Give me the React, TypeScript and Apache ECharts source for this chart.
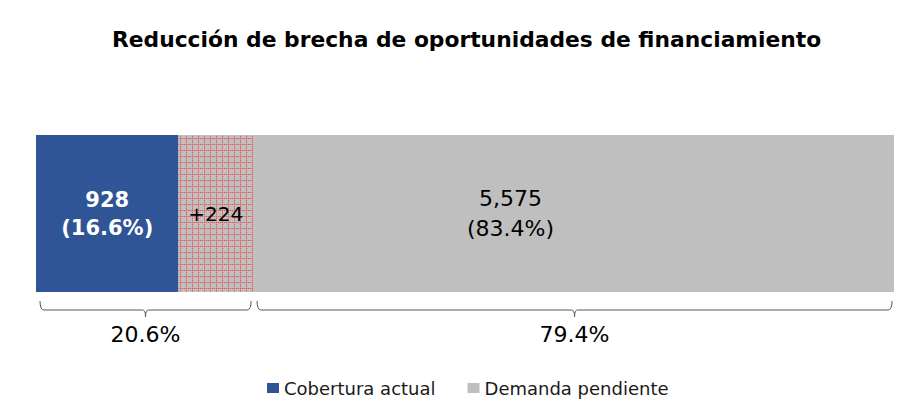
import React, { useEffect, useRef } from "react";
import * as echarts from "echarts";

const titleText = "Reducción de brecha de oportunidades de financiamiento";
const categories = ["Oportunidades"];
const seriesNames = ["Cobertura actual", "Brecha cubierta", "Demanda pendiente"];
const barValues = [16.6, 8.7, 74.7];
const barLabels = ["928\n(16.6%)", "+224", "5,575\n(83.4%)"];
const braceRanges = [
  [0, 25.3],
  [25.3, 100],
];
const braceLabels = ["20.6%", "79.4%"];
const legendItems = ["Cobertura actual", "Demanda pendiente"];

const FONT = "DejaVu Sans";

function makePattern() {
  const c = document.createElement("canvas");
  c.width = 6;
  c.height = 6;
  const ctx = c.getContext("2d")!;
  ctx.fillStyle = "#C0C0C0";
  ctx.fillRect(0, 0, 6, 6);
  for (let i = 0; i < 6; i++) {
    ctx.fillStyle = i % 2 === 0 ? "#E05555" : "#D49A9A";
    ctx.fillRect(i, 0, 1, 1);
    if (i > 0) ctx.fillRect(0, i, 1, 1);
  }
  return c;
}

export default function App() {
  const ref = useRef<HTMLDivElement>(null);
  useEffect(() => {
    if (!ref.current) return;
    const chart = echarts.init(ref.current, null, { renderer: "svg" });
    const pattern = makePattern();
    const colors = [
      "#2F5597",
      { image: pattern, repeat: "repeat", imageWidth: 6, imageHeight: 6 },
      "#BFBFBF",
    ];
    const labelStyles: any[] = [
      { color: "#FFFFFF", fontWeight: "bold", fontSize: 21, lineHeight: 28, offset: [0, 0] },
      { color: "#000000", fontSize: 20, lineHeight: 26, offset: [0, 0] },
      { color: "#000000", fontSize: 22, lineHeight: 30, offset: [-63, 0] },
    ];
    const barSeries = seriesNames.map((name, i) => ({
      name,
      type: "bar",
      stack: "total",
      barWidth: "100%",
      data: [barValues[i]],
      itemStyle: { color: colors[i] as any },
      label: {
        show: true,
        position: "inside",
        formatter: () => barLabels[i],
        fontFamily: FONT,
        ...labelStyles[i],
      },
      emphasis: { disabled: true },
    }));
    const braceData = braceRanges.map((r, i) => [r[0], r[1], i]);
    chart.setOption({
      animation: false,
      title: {
        text: titleText,
        left: 107,
        top: 23,
        textStyle: { fontFamily: FONT, fontSize: 21.8, fontWeight: "bold", color: "#000" },
      },
      legend: {
        data: legendItems,
        left: 262,
        top: 374,
        icon: "rect",
        itemWidth: 12,
        itemHeight: 10,
        itemGap: 32,
        textStyle: { fontFamily: FONT, fontSize: 18, color: "#1a1a1a" },
        selectedMode: false,
      },
      grid: { left: 36, right: 11, top: 135, bottom: 122 },
      xAxis: { type: "value", min: 0, max: 100, show: false },
      yAxis: { type: "category", data: categories, show: false },
      series: [
        ...barSeries,
        {
          type: "custom",
          name: "braces",
          clip: false,
          silent: true,
          data: braceData,
          renderItem: (params: any, api: any) => {
            const s = api.coord([api.value(0), 0]);
            const e = api.coord([api.value(1), 0]);
            const band = api.size([0, 1])[1];
            const bottom = s[1] + band / 2;
            const top = bottom + 9;
            const line = bottom + 18;
            const tip = bottom + 25;
            const x1 = s[0] + 4;
            const x2 = e[0] - 2;
            const mid = (x1 + x2) / 2;
            const d = `M ${x1} ${top} Q ${x1} ${line} ${x1 + 4} ${line} L ${mid - 3} ${line} Q ${mid} ${line} ${mid} ${tip} Q ${mid} ${line} ${mid + 3} ${line} L ${x2 - 4} ${line} Q ${x2} ${line} ${x2} ${top}`;
            const idx = api.value(2);
            return {
              type: "group",
              children: [
                {
                  type: "path",
                  shape: { pathData: d },
                  style: { fill: "none", stroke: "#595959", lineWidth: 1 },
                },
                {
                  type: "text",
                  x: mid,
                  y: line + 24,
                  style: {
                    text: braceLabels[idx],
                    fontFamily: FONT,
                    fontSize: 22,
                    fill: "#000",
                    align: "center",
                    verticalAlign: "middle",
                  },
                },
              ],
            };
          },
        },
      ],
    } as any);
    return () => chart.dispose();
  }, []);
  return (
    <div
      ref={ref}
      style={{ position: "fixed", left: 0, top: 0, width: 905, height: 414, background: "#fff" }}
    />
  );
}
